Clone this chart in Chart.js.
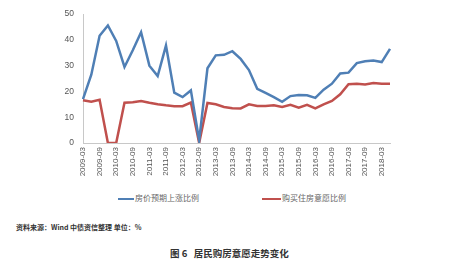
<!DOCTYPE html>
<html><head><meta charset="utf-8">
<script src="https://cdn.jsdelivr.net/npm/chart.js@4/dist/chart.umd.min.js"></script>
<style>
html,body{margin:0;padding:0;background:#fff;width:455px;height:268px;overflow:hidden;}
#wrap{position:absolute;left:0;top:0;width:455px;height:190px;}
.leg{position:absolute;top:192px;height:12px;font:8px "Noto Sans CJK SC","Liberation Sans",sans-serif;color:#666;line-height:12px;white-space:nowrap;}
.leg span.l{display:inline-block;width:16px;height:2.5px;vertical-align:middle;margin-right:1px;}
#src{position:absolute;left:16px;top:222px;font:bold 7px "Noto Sans CJK SC","Liberation Sans",sans-serif;color:#333;white-space:nowrap;}
#ttl{position:absolute;left:170px;top:246px;font:bold 9.5px "Noto Sans CJK SC","Liberation Sans",sans-serif;color:#333;white-space:nowrap;}
</style></head><body>
<div id="wrap"><canvas id="c" width="455" height="190"></canvas></div>
<div class="leg" style="left:118px"><span class="l" style="background:#4f7fb5"></span>房价预期上涨比例</div>
<div class="leg" style="left:262px"><span class="l" style="background:#c0504d;width:19px"></span>购买住房意愿比例</div>
<div id="src">资料来源：Wind 中债资信整理 单位：%</div>
<div id="ttl">图 6&nbsp;&nbsp;&nbsp;居民购房意愿走势变化</div>
<script>
const categories = [
 "2009-03","2009-06","2009-09","2009-12","2010-03","2010-06","2010-09","2010-12",
 "2011-03","2011-06","2011-09","2011-12","2012-03","2012-06","2012-09","2012-12",
 "2013-03","2013-06","2013-09","2013-12","2014-03","2014-06","2014-09","2014-12",
 "2015-03","2015-06","2015-09","2015-12","2016-03","2016-06","2016-09","2016-12",
 "2017-03","2017-06","2017-09","2017-12","2018-03","2018-06"];
const priceExpectUp = [17,26.5,41.6,45.6,39.6,29.5,36,43,30,26,37.8,19.5,17.8,20.4,1,29,
 34,34.2,35.6,32.6,28.3,21,19.4,17.8,16,18.2,18.6,18.5,17.5,20.7,23,27,27.3,31,31.7,32,31.4,36.5];
const buyIntent = [16.6,16,16.8,0,0,15.6,15.8,16.3,15.6,15,14.6,14.3,14.3,15.7,0,15.5,
 15,14,13.5,13.4,15,14.4,14.4,14.6,14,14.8,13.7,14.8,13.4,15,16.3,18.9,22.8,23,22.7,23.3,23,23];
const seriesNames = ["房价预期上涨比例","购买住房意愿比例"];
const yTicks = {min:0,max:50,step:5};

new Chart(document.getElementById('c'),{
  type:'line',
  data:{labels:categories,datasets:[
    {label:seriesNames[0],data:priceExpectUp,borderColor:'#4f7fb5',borderWidth:2.5,pointRadius:0,tension:0,fill:false},
    {label:seriesNames[1],data:buyIntent,borderColor:'#c0504d',borderWidth:2.5,pointRadius:0,tension:0,fill:false}
  ]},
  options:{
    responsive:false,animation:false,
    layout:{padding:{left:0,right:65,top:11,bottom:0}},
    plugins:{legend:{display:false},tooltip:{enabled:false}},
    scales:{
      x:{offset:false,grid:{display:false,drawTicks:false},border:{color:'#c8c8c8',width:1},
        ticks:{autoSkip:false,maxRotation:90,minRotation:90,padding:4,color:'#555',
          font:{family:'Liberation Sans',size:8},
          callback:function(v,i){const s=categories[i];return (s.endsWith('-03')||s.endsWith('-09'))?s:'';}},
        afterFit:s=>{s.height=47;}},
      y:{min:yTicks.min,max:yTicks.max,grid:{display:false,drawTicks:false},border:{color:'#c8c8c8',width:1},
        ticks:{stepSize:yTicks.step,padding:9,color:'#555',font:{family:'Liberation Sans',size:8.5}},
        afterFit:s=>{s.width=83;}}
    }
  }
});
</script>
</body></html>
